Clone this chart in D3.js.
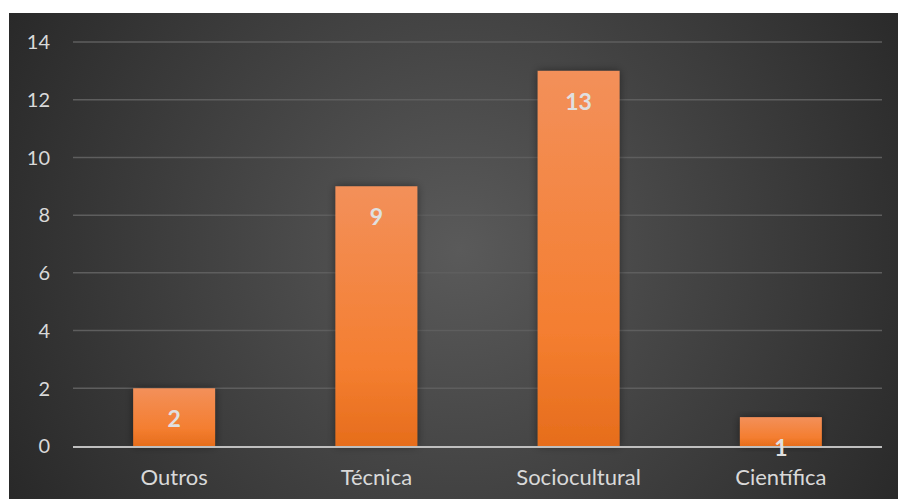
<!DOCTYPE html>
<html><head><meta charset="utf-8">
<script src="https://cdn.jsdelivr.net/npm/d3@7"></script>
<style>html,body{margin:0;padding:0;background:#fff;}svg{display:block;}</style>
</head><body>
<svg id="chart" width="898" height="499"></svg>
<script>
const categories = ["Outros", "Técnica", "Sociocultural", "Científica"];
const values = [2, 9, 13, 1];
const yTicks = [0, 2, 4, 6, 8, 10, 12, 14];

const svg = d3.select("#chart");
const W = 898, H = 499;
const font = "Lato, 'Open Sans', sans-serif";

const defs = svg.append("defs");
const bg = defs.append("radialGradient").attr("id","bg")
  .attr("gradientUnits","userSpaceOnUse").attr("cx",460).attr("cy",250).attr("r",540);
bg.append("stop").attr("offset","0%").attr("stop-color","#5a5a5a");
bg.append("stop").attr("offset","100%").attr("stop-color","#262626");

const bar = defs.append("linearGradient").attr("id","bar").attr("x1",0).attr("y1",0).attr("x2",0).attr("y2",1);
bar.append("stop").attr("offset","0%").attr("stop-color","#f3905a");
bar.append("stop").attr("offset","70%").attr("stop-color","#f47e30");
bar.append("stop").attr("offset","100%").attr("stop-color","#e66d1c");

const sh = defs.append("filter").attr("id","shadow").attr("x","-20%").attr("y","-20%").attr("width","140%").attr("height","140%");
sh.append("feDropShadow").attr("dx",0).attr("dy",0).attr("stdDeviation",4).attr("flood-color","#000").attr("flood-opacity",0.45);

svg.append("rect").attr("x",9).attr("y",13).attr("width",W-9).attr("height",H-13).attr("fill","url(#bg)");

const x = d3.scaleBand().domain(categories).range([73, 882]).paddingInner(0.595).paddingOuter(0.2975);
const y = d3.scaleLinear().domain([0, 14]).range([446, 42]);

// gridlines
svg.append("g").selectAll("line").data(yTicks.filter(d => d > 0)).join("line")
  .attr("x1",73).attr("x2",882).attr("y1",d=>y(d)).attr("y2",d=>y(d))
  .attr("stroke","#5e5e5e").attr("stroke-width",1.5);

// y axis labels
const yAxis = svg.append("g").attr("transform","translate(50,0)")
  .call(d3.axisLeft(y).tickValues(yTicks).tickSize(0).tickPadding(0));
yAxis.select(".domain").remove();
yAxis.selectAll("text").attr("fill","#d9d9d9").attr("dy","0.34em").style("font-family",font).style("font-size","20px");

// bars
svg.append("g").selectAll("rect").data(values).join("rect")
  .attr("x",(d,i)=>x(categories[i])).attr("width",x.bandwidth())
  .attr("y",d=>y(d)).attr("height",d=>y(0)-y(d))
  .attr("fill","url(#bar)").attr("filter","url(#shadow)");

// baseline
svg.append("line").attr("x1",73).attr("x2",882).attr("y1",y(0)+1).attr("y2",y(0)+1)
  .attr("stroke","#bfbfbf").attr("stroke-width",2);

// x axis labels
const xAxis = svg.append("g").attr("transform",`translate(0,${y(0)})`)
  .call(d3.axisBottom(x).tickSize(0));
xAxis.select(".domain").remove();
xAxis.selectAll("text").attr("y",39).attr("dy",0).attr("fill","#d9d9d9").style("font-family",font).style("font-size","22px");

// value labels
svg.append("g").selectAll("text").data(values).join("text")
  .attr("x",(d,i)=>x(categories[i])+x.bandwidth()/2)
  .attr("y",d=>y(d)+39)
  .attr("text-anchor","middle").attr("fill","#e0e0e0")
  .style("font-family",font).style("font-weight","bold").style("font-size","23px")
  .text(d=>d);
</script>
</body></html>
